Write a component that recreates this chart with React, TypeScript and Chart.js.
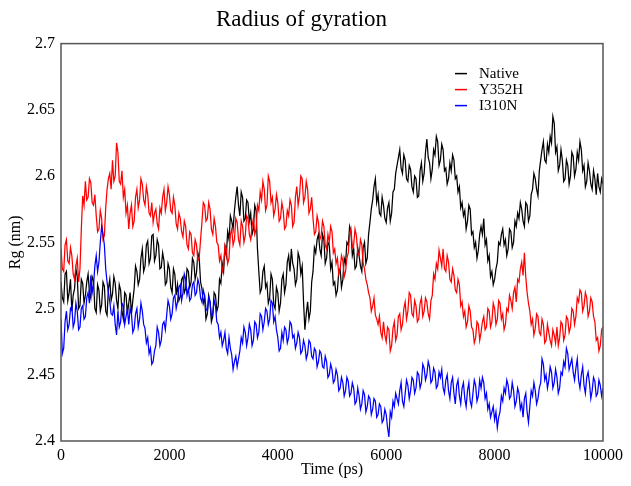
import React, { useEffect, useRef } from "react";
import { Chart, registerables } from "chart.js";

Chart.register(...registerables);

const TITLE = "Radius of gyration";
const X_LABEL = "Time (ps)";
const Y_LABEL = "Rg (nm)";
const SERIES_NAMES = ["Native", "Y352H", "I310N"];
const SERIES_COLORS = ["#000000", "#ff0000", "#0000ff"];
const TIME_STEP_PS = 25;
const X_MIN = 0;
const X_MAX = 10000;
const X_TICK_STEP = 2000;
const Y_MIN = 2.4;
const Y_MAX = 2.7;
const Y_TICK_STEP = 0.05;

// Rg values (nm), one sample every 25 ps from 0 to 10000 ps (10 samples per line)
const nativeRg = [
  2.520, 2.508, 2.505, 2.526, 2.528, 2.506, 2.512, 2.522, 2.498, 2.510,
  2.515, 2.530, 2.524, 2.500, 2.502, 2.522, 2.519, 2.504, 2.510, 2.520,
  2.526, 2.512, 2.508, 2.524, 2.521, 2.500, 2.497, 2.518, 2.514, 2.498,
  2.503, 2.520, 2.517, 2.498, 2.495, 2.515, 2.522, 2.506, 2.511, 2.524,
  2.519, 2.506, 2.500, 2.518, 2.514, 2.498, 2.492, 2.512, 2.510, 2.496,
  2.504, 2.512, 2.496, 2.506, 2.515, 2.532, 2.528, 2.518, 2.522, 2.538,
  2.545, 2.528, 2.532, 2.548, 2.551, 2.534, 2.538, 2.555, 2.556, 2.536,
  2.540, 2.552, 2.548, 2.530, 2.531, 2.542, 2.536, 2.518, 2.520, 2.534,
  2.530, 2.516, 2.512, 2.530, 2.526, 2.510, 2.518, 2.506, 2.509, 2.522,
  2.524, 2.512, 2.515, 2.530, 2.528, 2.516, 2.520, 2.538, 2.535, 2.522,
  2.527, 2.542, 2.538, 2.520, 2.515, 2.504, 2.508, 2.492, 2.496, 2.510,
  2.505, 2.490, 2.494, 2.512, 2.510, 2.498, 2.502, 2.522, 2.519, 2.534,
  2.528, 2.546, 2.540, 2.558, 2.552, 2.570, 2.566, 2.560, 2.574, 2.584,
  2.592, 2.578, 2.570, 2.588, 2.584, 2.566, 2.568, 2.582, 2.580, 2.566,
  2.572, 2.556, 2.560, 2.578, 2.574, 2.545, 2.528, 2.512, 2.515, 2.528,
  2.532, 2.516, 2.519, 2.504, 2.508, 2.526, 2.522, 2.503, 2.500, 2.516,
  2.512, 2.498, 2.504, 2.522, 2.526, 2.512, 2.518, 2.535, 2.540, 2.528,
  2.545, 2.534, 2.530, 2.518, 2.522, 2.542, 2.538, 2.526, 2.532, 2.505,
  2.484, 2.496, 2.505, 2.492, 2.498, 2.520, 2.528, 2.546, 2.542, 2.552,
  2.556, 2.545, 2.540, 2.556, 2.552, 2.534, 2.538, 2.550, 2.548, 2.530,
  2.535, 2.518, 2.520, 2.510, 2.514, 2.528, 2.530, 2.516, 2.522, 2.538,
  2.534, 2.550, 2.548, 2.562, 2.558, 2.540, 2.545, 2.530, 2.532, 2.546,
  2.540, 2.532, 2.528, 2.546, 2.550, 2.534, 2.538, 2.556, 2.565, 2.575,
  2.582, 2.592, 2.598, 2.580, 2.586, 2.572, 2.570, 2.584, 2.578, 2.568,
  2.565, 2.576, 2.580, 2.566, 2.572, 2.588, 2.590, 2.602, 2.608, 2.614,
  2.620, 2.606, 2.602, 2.616, 2.612, 2.598, 2.596, 2.608, 2.605, 2.592,
  2.588, 2.600, 2.598, 2.584, 2.585, 2.604, 2.610, 2.596, 2.602, 2.618,
  2.628, 2.614, 2.610, 2.598, 2.605, 2.620, 2.616, 2.630, 2.626, 2.608,
  2.612, 2.624, 2.620, 2.604, 2.606, 2.594, 2.598, 2.610, 2.604, 2.616,
  2.612, 2.598, 2.600, 2.588, 2.592, 2.576, 2.580, 2.570, 2.574, 2.560,
  2.566, 2.578, 2.575, 2.556, 2.558, 2.546, 2.550, 2.538, 2.544, 2.556,
  2.562, 2.556, 2.568, 2.548, 2.552, 2.536, 2.540, 2.524, 2.528, 2.518,
  2.522, 2.530, 2.535, 2.550, 2.548, 2.556, 2.560, 2.548, 2.552, 2.540,
  2.545, 2.560, 2.558, 2.546, 2.550, 2.566, 2.562, 2.572, 2.568, 2.580,
  2.575, 2.566, 2.562, 2.580, 2.578, 2.566, 2.570, 2.586, 2.590, 2.602,
  2.598, 2.590, 2.585, 2.604, 2.612, 2.620, 2.626, 2.612, 2.610, 2.624,
  2.618, 2.630, 2.625, 2.645, 2.640, 2.618, 2.622, 2.604, 2.608, 2.620,
  2.612, 2.596, 2.598, 2.612, 2.608, 2.594, 2.600, 2.618, 2.615, 2.600,
  2.605, 2.618, 2.612, 2.626, 2.620, 2.604, 2.608, 2.592, 2.596, 2.610,
  2.604, 2.594, 2.590, 2.604, 2.598, 2.586, 2.602, 2.592, 2.588, 2.598,
  2.594,
];

const y352hRg = [
  2.545, 2.530, 2.528, 2.548, 2.552, 2.536, 2.534, 2.546, 2.540, 2.526,
  2.522, 2.532, 2.538, 2.520, 2.530, 2.560, 2.585, 2.578, 2.596, 2.582,
  2.584, 2.598, 2.595, 2.580, 2.578, 2.586, 2.570, 2.558, 2.560, 2.574,
  2.568, 2.552, 2.555, 2.576, 2.590, 2.598, 2.602, 2.590, 2.612, 2.596,
  2.600, 2.625, 2.618, 2.596, 2.594, 2.604, 2.584, 2.590, 2.572, 2.578,
  2.560, 2.572, 2.578, 2.562, 2.566, 2.584, 2.590, 2.576, 2.582, 2.598,
  2.594, 2.582, 2.578, 2.592, 2.586, 2.572, 2.570, 2.580, 2.565, 2.572,
  2.575, 2.564, 2.560, 2.576, 2.572, 2.584, 2.590, 2.574, 2.580, 2.592,
  2.586, 2.574, 2.572, 2.584, 2.578, 2.564, 2.560, 2.572, 2.568, 2.558,
  2.554, 2.566, 2.562, 2.548, 2.545, 2.558, 2.556, 2.542, 2.540, 2.552,
  2.548, 2.536, 2.538, 2.552, 2.565, 2.580, 2.578, 2.566, 2.568, 2.580,
  2.575, 2.560, 2.556, 2.568, 2.562, 2.550, 2.548, 2.536, 2.540, 2.528,
  2.532, 2.548, 2.545, 2.534, 2.538, 2.556, 2.560, 2.548, 2.552, 2.568,
  2.565, 2.552, 2.548, 2.566, 2.562, 2.550, 2.555, 2.570, 2.568, 2.556,
  2.552, 2.562, 2.568, 2.556, 2.560, 2.578, 2.574, 2.588, 2.582, 2.596,
  2.590, 2.574, 2.578, 2.600, 2.596, 2.580, 2.584, 2.570, 2.575, 2.586,
  2.580, 2.566, 2.568, 2.580, 2.574, 2.560, 2.562, 2.574, 2.570, 2.582,
  2.578, 2.562, 2.565, 2.584, 2.592, 2.578, 2.585, 2.600, 2.598, 2.580,
  2.584, 2.596, 2.590, 2.572, 2.575, 2.584, 2.568, 2.556, 2.558, 2.570,
  2.565, 2.552, 2.555, 2.566, 2.562, 2.548, 2.545, 2.556, 2.550, 2.562,
  2.558, 2.542, 2.545, 2.534, 2.538, 2.526, 2.530, 2.540, 2.536, 2.524,
  2.528, 2.538, 2.542, 2.556, 2.560, 2.546, 2.548, 2.560, 2.555, 2.542,
  2.540, 2.552, 2.548, 2.534, 2.530, 2.522, 2.518, 2.512, 2.508, 2.498,
  2.502, 2.508, 2.495, 2.492, 2.488, 2.494, 2.482, 2.478, 2.490, 2.480,
  2.475, 2.486, 2.484, 2.468, 2.472, 2.485, 2.490, 2.476, 2.480, 2.494,
  2.496, 2.484, 2.488, 2.500, 2.505, 2.492, 2.498, 2.512, 2.510, 2.496,
  2.494, 2.506, 2.502, 2.490, 2.492, 2.504, 2.508, 2.494, 2.498, 2.508,
  2.505, 2.496, 2.492, 2.506, 2.510, 2.526, 2.522, 2.534, 2.530, 2.544,
  2.538, 2.532, 2.545, 2.530, 2.528, 2.540, 2.535, 2.522, 2.520, 2.530,
  2.525, 2.514, 2.512, 2.522, 2.518, 2.502, 2.505, 2.494, 2.498, 2.486,
  2.490, 2.502, 2.498, 2.486, 2.484, 2.474, 2.478, 2.490, 2.488, 2.476,
  2.482, 2.490, 2.494, 2.484, 2.486, 2.500, 2.498, 2.486, 2.490, 2.504,
  2.500, 2.488, 2.492, 2.506, 2.504, 2.492, 2.496, 2.484, 2.488, 2.500,
  2.498, 2.510, 2.506, 2.500, 2.512, 2.516, 2.505, 2.522, 2.520, 2.530,
  2.535, 2.525, 2.542, 2.524, 2.512, 2.504, 2.498, 2.488, 2.492, 2.480,
  2.485, 2.496, 2.494, 2.482, 2.480, 2.492, 2.488, 2.474, 2.476, 2.488,
  2.482, 2.476, 2.472, 2.484, 2.480, 2.474, 2.486, 2.472, 2.478, 2.490,
  2.488, 2.476, 2.480, 2.494, 2.492, 2.482, 2.486, 2.500, 2.498, 2.488,
  2.494, 2.508, 2.505, 2.514, 2.512, 2.498, 2.502, 2.512, 2.508, 2.494,
  2.498, 2.508, 2.505, 2.494, 2.490, 2.476, 2.478, 2.468, 2.472, 2.484,
  2.486,
];

const i310nRg = [
  2.492, 2.466, 2.470, 2.490, 2.498, 2.484, 2.488, 2.500, 2.502, 2.486,
  2.490, 2.504, 2.498, 2.484, 2.486, 2.500, 2.502, 2.492, 2.494, 2.508,
  2.512, 2.504, 2.525, 2.512, 2.518, 2.532, 2.540, 2.528, 2.535, 2.550,
  2.562, 2.556, 2.548, 2.530, 2.520, 2.512, 2.505, 2.496, 2.495, 2.502,
  2.488, 2.480, 2.498, 2.486, 2.490, 2.504, 2.502, 2.488, 2.494, 2.500,
  2.488, 2.500, 2.496, 2.482, 2.485, 2.496, 2.500, 2.486, 2.492, 2.504,
  2.498, 2.488, 2.485, 2.474, 2.478, 2.466, 2.470, 2.458, 2.460, 2.468,
  2.472, 2.486, 2.482, 2.472, 2.476, 2.488, 2.490, 2.484, 2.495, 2.506,
  2.502, 2.492, 2.496, 2.508, 2.510, 2.500, 2.505, 2.516, 2.518, 2.506,
  2.512, 2.526, 2.522, 2.510, 2.515, 2.506, 2.508, 2.518, 2.520, 2.510,
  2.512, 2.522, 2.518, 2.508, 2.505, 2.514, 2.510, 2.500, 2.498, 2.508,
  2.505, 2.494, 2.496, 2.506, 2.502, 2.490, 2.488, 2.478, 2.482, 2.472,
  2.476, 2.482, 2.470, 2.466, 2.478, 2.470, 2.465, 2.454, 2.460, 2.464,
  2.456, 2.462, 2.468, 2.478, 2.474, 2.486, 2.482, 2.472, 2.478, 2.488,
  2.484, 2.472, 2.476, 2.490, 2.488, 2.478, 2.482, 2.496, 2.494, 2.484,
  2.490, 2.500, 2.498, 2.488, 2.492, 2.506, 2.504, 2.490, 2.494, 2.484,
  2.478, 2.468, 2.470, 2.482, 2.476, 2.486, 2.484, 2.474, 2.478, 2.490,
  2.488, 2.478, 2.480, 2.470, 2.474, 2.482, 2.478, 2.466, 2.468, 2.476,
  2.472, 2.462, 2.466, 2.476, 2.474, 2.464, 2.462, 2.470, 2.468, 2.456,
  2.460, 2.468, 2.466, 2.456, 2.455, 2.464, 2.460, 2.448, 2.450, 2.458,
  2.454, 2.444, 2.446, 2.454, 2.450, 2.438, 2.440, 2.448, 2.444, 2.434,
  2.438, 2.448, 2.445, 2.434, 2.436, 2.444, 2.440, 2.428, 2.430, 2.440,
  2.434, 2.424, 2.428, 2.438, 2.435, 2.422, 2.426, 2.434, 2.432, 2.420,
  2.424, 2.432, 2.430, 2.418, 2.420, 2.428, 2.426, 2.414, 2.416, 2.424,
  2.420, 2.410, 2.403, 2.422, 2.418, 2.430, 2.426, 2.436, 2.432, 2.428,
  2.438, 2.444, 2.430, 2.426, 2.436, 2.446, 2.442, 2.432, 2.438, 2.448,
  2.446, 2.436, 2.440, 2.452, 2.450, 2.440, 2.444, 2.458, 2.455, 2.446,
  2.450, 2.460, 2.456, 2.444, 2.446, 2.455, 2.452, 2.440, 2.442, 2.452,
  2.448, 2.454, 2.440, 2.436, 2.446, 2.450, 2.438, 2.432, 2.444, 2.448,
  2.436, 2.428, 2.442, 2.446, 2.434, 2.428, 2.440, 2.444, 2.432, 2.426,
  2.438, 2.444, 2.430, 2.426, 2.436, 2.446, 2.442, 2.430, 2.434, 2.446,
  2.440, 2.448, 2.444, 2.432, 2.436, 2.424, 2.428, 2.418, 2.422, 2.426,
  2.416, 2.422, 2.410, 2.418, 2.422, 2.434, 2.430, 2.440, 2.436, 2.446,
  2.442, 2.432, 2.434, 2.444, 2.438, 2.426, 2.430, 2.440, 2.436, 2.424,
  2.428, 2.418, 2.432, 2.436, 2.422, 2.414, 2.426, 2.438, 2.434, 2.444,
  2.438, 2.428, 2.432, 2.440, 2.444, 2.462, 2.458, 2.446, 2.450, 2.440,
  2.446, 2.456, 2.452, 2.440, 2.444, 2.454, 2.448, 2.436, 2.440, 2.452,
  2.450, 2.460, 2.456, 2.470, 2.466, 2.454, 2.458, 2.462, 2.452, 2.446,
  2.455, 2.462, 2.446, 2.440, 2.450, 2.456, 2.442, 2.436, 2.448, 2.452,
  2.444, 2.432, 2.438, 2.448, 2.445, 2.434, 2.436, 2.446, 2.442, 2.434,
  2.440,
];

const SERIES_VALUES = [nativeRg, y352hRg, i310nRg];

const FONT = '"Liberation Serif", "Times New Roman", serif';

const toPoints = (vals: number[]) => vals.map((v, i) => ({ x: i * TIME_STEP_PS, y: v }));

const framePlugin = {
  id: "frameAndLegend",
  afterDatasetsDraw(chart: any) {
    const { ctx, chartArea: a } = chart;
    ctx.save();
    ctx.strokeStyle = "#555555";
    ctx.lineWidth = 1.5;
    ctx.strokeRect(a.left, a.top, a.right - a.left, a.bottom - a.top);
    ctx.font = `15px ${FONT}`;
    ctx.textBaseline = "middle";
    ctx.textAlign = "left";
    chart.data.datasets.forEach((ds: any, i: number) => {
      const y = a.top + 30 + i * 16;
      ctx.strokeStyle = ds.borderColor;
      ctx.lineWidth = 1.5;
      ctx.beginPath();
      ctx.moveTo(a.right - 148, y);
      ctx.lineTo(a.right - 136, y);
      ctx.stroke();
      ctx.fillStyle = "#000";
      ctx.fillText(ds.label, a.right - 124, y);
    });
    ctx.restore();
  },
};

export default function App() {
  const ref = useRef<HTMLCanvasElement | null>(null);
  useEffect(() => {
    if (!ref.current) return;
    const chart = new Chart(ref.current, {
      type: "line",
      data: {
        datasets: SERIES_NAMES.map((name, i) => ({
          label: name,
          data: toPoints(SERIES_VALUES[i]),
          borderColor: SERIES_COLORS[i],
          backgroundColor: SERIES_COLORS[i],
          borderWidth: 1.25,
          pointRadius: 0,
          tension: 0,
          order: SERIES_NAMES.length - i,
        })),
      },
      options: {
        responsive: false,
        animation: false,
        events: [],
        layout: { padding: { left: 0, right: 28, top: 0, bottom: 0 } },
        plugins: {
          legend: { display: false },
          tooltip: { enabled: false },
          title: {
            display: true,
            text: TITLE,
            color: "#000",
            font: { family: FONT, size: 23, weight: "normal" },
            padding: { top: 6, bottom: 10 },
          },
        },
        scales: {
          x: {
            type: "linear",
            min: X_MIN,
            max: X_MAX,
            grid: { display: false, drawTicks: false },
            border: { display: false },
            ticks: {
              stepSize: X_TICK_STEP,
              color: "#000",
              font: { family: FONT, size: 16 },
              padding: 5,
              maxRotation: 0,
              callback: (v: any) => String(v),
            },
            title: {
              display: true,
              text: X_LABEL,
              color: "#000",
              font: { family: FONT, size: 16 },
              padding: { top: 0, bottom: 7 },
            },
            afterFit: (s: any) => {
              s.height = 45;
            },
          },
          y: {
            min: Y_MIN,
            max: Y_MAX,
            grid: { display: false, drawTicks: false },
            border: { display: false },
            ticks: {
              stepSize: Y_TICK_STEP,
              color: "#000",
              font: { family: FONT, size: 16 },
              padding: 6,
              callback: (v: any) => parseFloat(Number(v).toFixed(2)).toString(),
            },
            title: {
              display: true,
              text: Y_LABEL,
              color: "#000",
              font: { family: FONT, size: 16 },
              padding: { top: 6, bottom: 0 },
            },
            afterFit: (s: any) => {
              s.width = 61;
            },
          },
        },
      },
      plugins: [framePlugin],
    });
    return () => chart.destroy();
  }, []);
  return (
    <div style={{ position: "fixed", left: 0, top: 0, width: 631, height: 486, background: "#fff" }}>
      <canvas ref={ref} width={631} height={486} style={{ display: "block" }} />
    </div>
  );
}
